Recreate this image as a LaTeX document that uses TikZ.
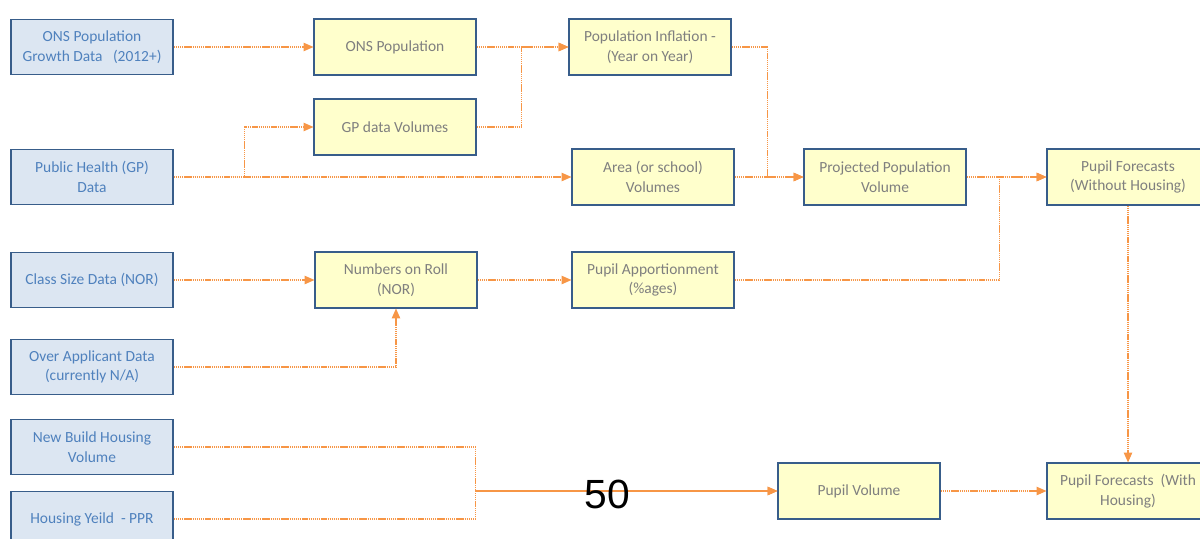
\documentclass[tikz,border=0pt]{standalone}
\usepackage{fontspec}
\setmainfont{Carlito}
\setsansfont{Liberation Sans}
\usetikzlibrary{shapes.geometric, arrows.meta}
\definecolor{srcfill}{HTML}{DCE6F2}
\definecolor{srctext}{HTML}{4F81BD}
\definecolor{boxline}{HTML}{385D8A}
\definecolor{procfill}{HTML}{FFFFCC}
\definecolor{proctext}{HTML}{7F7F7F}
\definecolor{flow}{HTML}{F79646}
\tikzstyle{source} = [rectangle, minimum width=4.05cm, minimum height=1.375cm, align=center, fill=srcfill, draw=boxline, line width=0.8pt, text=srctext, font=\fontsize{11}{14}\selectfont]
\tikzstyle{process} = [rectangle, minimum width=4.05cm, minimum height=1.4cm, align=center, fill=procfill, draw=boxline, line width=0.8pt, text=proctext, font=\fontsize{11}{14}\selectfont]
\tikzstyle{link} = [draw=flow, dash pattern=on 1pt off 0.5pt, line width=0.8pt]
\tikzstyle{arrow} = [link, -{Triangle[length=7pt,width=6pt]}]
\begin{document}
\begin{tikzpicture}[node distance=2cm]
	\clip (-2.3,1.175) rectangle (27.7,-12.275);
	\node (growth) [source] {ONS Population\\Growth Data \ \ (2012+)};
	\node (health) [source, below of=growth, yshift=-1.25cm] {Public Health (GP)\\Data};
	\node (classsize) [source, below of=health, yshift=-0.575cm] {Class Size Data (NOR)};
	\node (applicant) [source, below of=classsize, yshift=-0.175cm] {Over Applicant Data\\(currently N/A)};
	\node (newbuild) [source, below of=applicant] {New Build Housing\\Volume};
	\node (yield) [source, below of=newbuild, yshift=0.2cm] {Housing Yeild \ - PPR};
	\node (onspop) [process, right of=growth, xshift=5.575cm] {ONS Population};
	\node (gpvol) [process, below of=onspop] {GP data Volumes};
	\node (inflation) [process, right of=onspop, xshift=4.375cm] {Population Inflation -\\(Year on Year)};
	\node (area) [process, below of=inflation, yshift=-1.25cm, xshift=0.075cm] {Area (or school)\\Volumes};
	\node (projected) [process, right of=area, xshift=3.8cm] {Projected Population\\Volume};
	\node (forecast) [process, right of=projected, xshift=4.075cm] {Pupil Forecasts\\(Without Housing)};
	\node (roll) [process, right of=classsize, xshift=5.6cm] {Numbers on Roll\\(NOR)};
	\node (apportion) [process, below of=area, yshift=-0.575cm] {Pupil Apportionment\\(\%ages)};
	\node (housingfc) [process, below of=forecast, yshift=-5.85cm] {Pupil Forecasts \ (With\\Housing)};
	\node (pupilvol) [process, left of=housingfc, xshift=-4.725cm] {Pupil Volume};
	\draw [arrow] (growth) -- (onspop);
	\draw [arrow] (onspop) -- (inflation);
	\draw [arrow] (gpvol.east) -- ++(1.125,0) |- (inflation.west);
	\draw [arrow] (health) -- (area);
	\draw [arrow] (health.east) -- ++(1.775,0) |- (gpvol.west);
	\draw [arrow] (inflation.east) -- ++(0.9,0) |- (projected.west);
	\draw [arrow] (area) -- (projected);
	\draw [arrow] (projected) -- (forecast);
	\draw [arrow] (apportion.east) -- ++(6.625,0) |- (forecast.west);
	\draw [arrow] (classsize) -- (roll);
	\draw [arrow] (applicant.east) -| (roll.south);
	\draw [arrow] (roll) -- (apportion);
	\draw [arrow] (newbuild.east) -- ++(7.55,0) |- (pupilvol.west);
	\draw [arrow] (yield.east) -- ++(7.55,0) |- (pupilvol.west);
	\draw [arrow] (pupilvol) -- (housingfc);
	\draw [arrow] (forecast) -- (housingfc);
	\node (pagenum) at (12.875,-11.175) {\sffamily\fontsize{29}{30}\selectfont 50};
\end{tikzpicture}
\end{document}
